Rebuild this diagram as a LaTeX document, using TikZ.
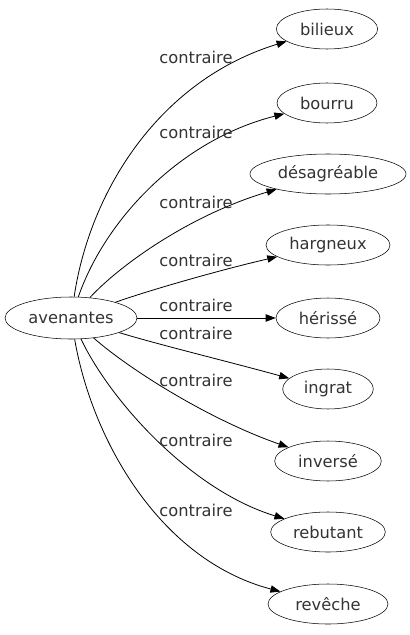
\documentclass[tikz,border=0pt]{standalone}
\usepackage{fontspec}
\setmainfont{DejaVu Sans}
\usetikzlibrary{shapes.geometric,arrows.meta}
\begin{document}
\begin{tikzpicture}[x=0.75pt,y=-0.75pt,
  word/.style={draw,ellipse,inner sep=0pt,minimum height=30pt,font=\fontsize{12.2pt}{14pt}\selectfont,text=black!80},
  lbl/.style={font=\fontsize{12.2pt}{14pt}\selectfont,text=black!80,inner sep=0pt},
  rel/.style={draw,line width=0.6pt,-{Triangle[length=7.5pt,width=5.5pt]}}]
\useasboundingbox (0,0) rectangle (410,635);
\node[word,minimum width=99pt,minimum height=31.5pt] (av) at (71,318) {avenantes};
\node[word,minimum width=76pt] (b1) at (327,29) {bilieux};
\node[word,minimum width=75pt] (b2) at (327,103) {bourru};
\node[word,minimum width=117pt] (b3) at (328,174) {désagréable};
\node[word,minimum width=93pt] (b4) at (328,245) {hargneux};
\node[word,minimum width=78pt] (b5) at (328,318) {hérissé};
\node[word,minimum width=68pt] (b6) at (328,389) {ingrat};
\node[word,minimum width=80pt] (b7) at (328,461) {inversé};
\node[word,minimum width=86pt] (b8) at (328,532) {rebutant};
\node[word,minimum width=90pt] (b9) at (328,604) {revêche};
\path[rel] (av) .. controls (90,190) and (160,80) .. (b1);
\path[rel] (av) .. controls (105,220) and (180,140) .. (b2);
\path[rel] (av) .. controls (120,265) and (190,215) .. (b3);
\path[rel] (av) .. controls (150,290) and (220,270) .. (b4);
\path[rel] (av) -- (b5);
\path[rel] (av) .. controls (160,345) and (230,362) .. (b6);
\path[rel] (av) .. controls (130,370) and (210,420) .. (b7);
\path[rel] (av) .. controls (110,400) and (190,490) .. (b8);
\path[rel] (av) .. controls (92,440) and (160,560) .. (b9);
\node[lbl] (l1) at (196,57) {contraire};
\node[lbl] (l2) at (196,132) {contraire};
\node[lbl] (l3) at (196,202) {contraire};
\node[lbl] (l4) at (196,260) {contraire};
\node[lbl] (l5) at (196,305) {contraire};
\node[lbl] (l6) at (196,333) {contraire};
\node[lbl] (l7) at (196,380) {contraire};
\node[lbl] (l8) at (196,440) {contraire};
\node[lbl] (l9) at (196,510) {contraire};
\end{tikzpicture}
\end{document}
